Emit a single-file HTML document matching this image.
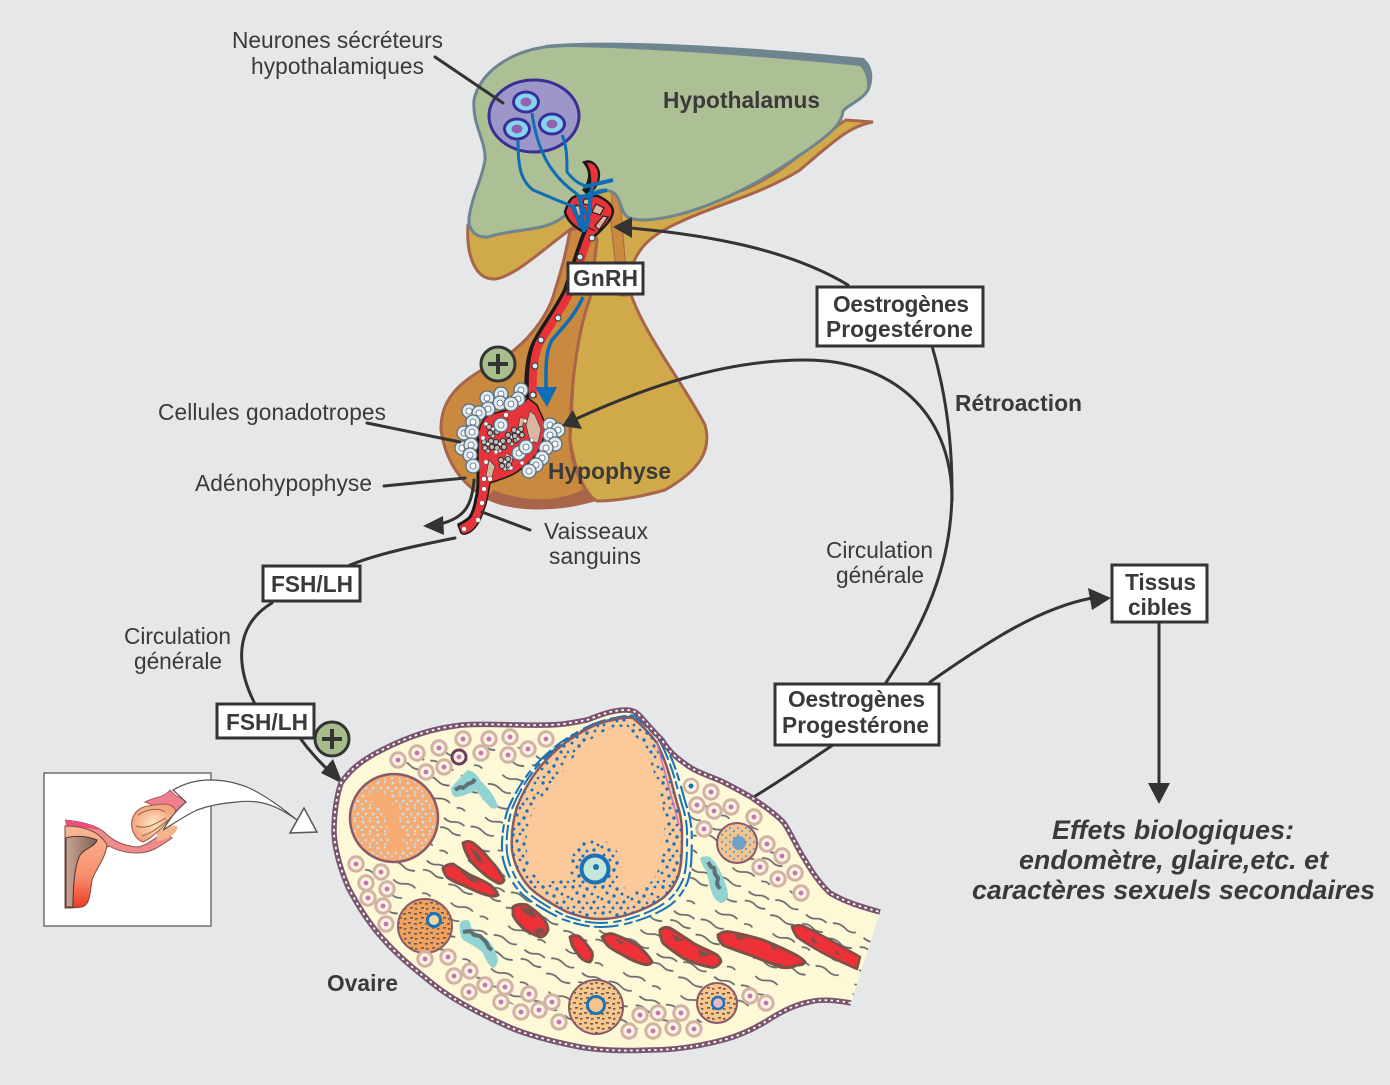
<!DOCTYPE html>
<html lang="fr"><head><meta charset="utf-8"><title>Hypothalamus</title>
<style>html,body{margin:0;padding:0;background:#e6e7e9}svg{display:block}
text{font-family:"Liberation Sans",sans-serif;fill:#3a3a3a;font-size:22.7px}
.b{font-weight:bold}.l{fill:none;stroke:#333;stroke-width:3;stroke-linecap:round}
.box{fill:#fff;stroke:#333;stroke-width:3}.v{stroke:#7d5048;stroke-width:3;fill:#ee3136;stroke-linejoin:round}
.t{fill:#92d3d3}.s{fill:none;stroke:#5f6f75;stroke-width:4;stroke-linejoin:round}</style></head><body>
<svg width="1390" height="1085" viewBox="0 0 1390 1085" xmlns="http://www.w3.org/2000/svg">
<defs>
<path id="ovb" d="M341 783C350 770 360 762 376 753C410 735 435 728 462 725C490 723 520 726 544 725C565 725 575 722 587 720C600 715 612 710 626 710C635 710 638 714 641 717C648 725 655 733 662 740C668 750 675 757 684 763C695 772 710 776 723 782C733 787 742 792 751 797C762 805 775 813 784 823C792 835 797 848 805 860C812 872 820 884 830 893C845 902 862 907 880 912L851 1003C835 1000 820 999 809 1002C795 1005 785 1010 773 1017C758 1027 742 1035 723 1040C700 1046 675 1050 651 1050C628 1051 603 1051 580 1047C555 1042 530 1036 509 1027C485 1016 458 1003 437 987C418 972 400 958 384 940C370 925 358 906 348 887C340 868 335 850 334 833C334 815 336 798 341 783Z"/>
<path id="wall" d="M851 1003C835 1000 820 999 809 1002C795 1005 785 1010 773 1017C758 1027 742 1035 723 1040C700 1046 675 1050 651 1050C628 1051 603 1051 580 1047C555 1042 530 1036 509 1027C485 1016 458 1003 437 987C418 972 400 958 384 940C370 925 358 906 348 887C340 868 335 850 334 833C334 815 336 798 341 783C350 770 360 762 376 753C410 735 435 728 462 725C490 723 520 726 544 725C565 725 575 722 587 720C600 715 612 710 626 710C635 710 638 714 641 717C648 725 655 733 662 740C668 750 675 757 684 763C695 772 710 776 723 782C733 787 742 792 751 797C762 805 775 813 784 823C792 835 797 848 805 860C812 872 820 884 830 893C845 902 862 907 880 912" fill="none"/>
<path id="fol" d="M633 718C645 728 651 735 657 743C668 765 672 785 677 803C681 815 682 825 682 833C682 850 682 865 678 877C674 886 670 892 663 898C652 906 642 910 633 913C622 917 610 919 600 919C588 919 578 916 567 912C555 906 541 898 530 888C520 877 514 864 512 850C511 835 513 820 517 807C523 792 531 778 540 767C551 754 563 743 577 735C589 727 601 722 613 720C620 718 627 717 633 718Z"/>
<clipPath id="ovc"><use href="#ovb"/></clipPath>
<linearGradient id="ug" x1="0" y1="0" x2="0" y2="1"><stop offset="0" stop-color="#f9b896"/><stop offset=".6" stop-color="#f7906c"/><stop offset="1" stop-color="#ee3a28"/></linearGradient>
<linearGradient id="cg" x1="0" y1="0" x2="1" y2="0"><stop offset="0" stop-color="#c9a694"/><stop offset="1" stop-color="#7e5f52"/></linearGradient>
<radialGradient id="og"><stop offset="0" stop-color="#fde6c4"/><stop offset="1" stop-color="#f2a27d"/></radialGradient>
<pattern id="sq" width="62" height="46" patternUnits="userSpaceOnUse" patternTransform="rotate(22)">
<path d="M3 8q7-3 13 0t13 0M36 4q6-2.5 11 0t11 0M12 24q6 3 12 0t12 0M44 26q5-2.5 9 0M2 38q7-3 13 0t12 0M36 40q6 2.5 11 0t11 0" fill="none" stroke="#6a6a6e" stroke-width="1.8"/></pattern>
<pattern id="bd" width="30" height="26" patternUnits="userSpaceOnUse">
<g fill="#1a72b8"><circle cx="3" cy="3" r="1.7"/><circle cx="10" cy="2" r="1.4"/><circle cx="17" cy="5" r="1.7"/><circle cx="25" cy="3" r="1.4"/><circle cx="7" cy="9" r="1.6"/><circle cx="14" cy="12" r="1.7"/><circle cx="22" cy="10" r="1.5"/><circle cx="28" cy="13" r="1.4"/><circle cx="2" cy="15" r="1.5"/><circle cx="9" cy="18" r="1.7"/><circle cx="17" cy="19" r="1.4"/><circle cx="24" cy="18" r="1.6"/><circle cx="4" cy="23" r="1.4"/><circle cx="13" cy="24" r="1.5"/><circle cx="21" cy="24" r="1.6"/><circle cx="28" cy="24" r="1.3"/></g></pattern>
<pattern id="ld" width="15" height="13" patternUnits="userSpaceOnUse"><g fill="#bfe0ee"><circle cx="3" cy="3" r="1.5"/><circle cx="10" cy="2" r="1.2"/><circle cx="13" cy="8" r="1.5"/><circle cx="6" cy="8" r="1.3"/><circle cx="2" cy="11" r="1.2"/><circle cx="10" cy="12" r="1.1"/></g></pattern>
<pattern id="dd" width="11" height="10" patternUnits="userSpaceOnUse"><g fill="#6a5a50"><path d="M1 2h3v1.6h-3zM7 3h3v1.6h-3zM3 7h3v1.6h-3zM8 8h2.5v1.6h-2.5z"/></g></pattern>
<pattern id="bs" width="8" height="7" patternUnits="userSpaceOnUse"><g fill="#4a9bcc"><circle cx="2" cy="2" r="1"/><circle cx="6" cy="5" r="1"/></g></pattern>
<g id="c"><circle r="7.2" fill="#fbf3dc" stroke="#d2b2a6" stroke-width="3"/><circle r="2.4" fill="#c475b8"/></g>
<g id="h"><circle r="7" fill="#dcebf3" stroke="#5f6c78" stroke-width="1.3"/><circle r="3" fill="#fff" stroke="#5f6c78" stroke-width=".8"/></g>
<g id="n"><ellipse rx="14" ry="11.5" fill="#37309b"/><ellipse rx="11" ry="8.5" fill="#86d5f0"/><ellipse rx="5.5" ry="4.5" fill="#9560b0"/></g>
<g id="g"><circle cx="-4" cy="-3" r="2.6" fill="#bbb" stroke="#333"/><circle cx="3" cy="-4" r="2.6" fill="#bbb" stroke="#333"/><circle cx="-3" cy="3" r="2.6" fill="#bbb" stroke="#333"/><circle cx="4" cy="2" r="2.6" fill="#bbb" stroke="#333"/><circle cx="0" cy="-1" r="2" fill="#eee" stroke="#333" stroke-width=".8"/><circle cx="0" cy="6" r="2" fill="#ccc" stroke="#333" stroke-width=".8"/></g>
</defs>
<rect width="1390" height="1085" fill="#e6e7e9"/>

<!-- infundibulum / pituitary -->
<path d="M468 225C466 255 475 280 495 279C515 277 548 245 575 226L630 216C680 214 700 195 743 190C790 170 820 135 846 120L873 122C850 126 835 140 800 170C760 195 715 205 680 222C650 235 632 250 628 285C640 330 685 385 705 425C712 450 700 470 665 490C640 497 615 501 597 501C585 495 575 470 570 440L575 340L588 297L600 200Z" fill="#d0a94a" stroke="#a8654a" stroke-width="3"/>
<path d="M585 185H630V230L590 240Z" fill="#d0a94a"/>
<path d="M612 193Q620 192 621 210L628 296L619 296L611 225Z" fill="#c98a40" stroke="#a8654a" stroke-width="1"/>
<path d="M570 230L590 225L597 240L590 298C575 340 570 400 570 440C572 470 583 488 594 500C560 510 515 512 487 498C465 487 446 465 441 430C440 395 465 378 500 360C525 345 545 320 553 297C558 280 565 260 570 230Z" fill="#c98a40" stroke="#a8654a" stroke-width="3"/>
<path d="M592 499C560 511 515 512 487 498L493 490C530 505 565 500 586 488Z" fill="#a8654a"/>

<!-- hypothalamus -->
<path d="M474 100C480 72 510 52 545 47C620 40 760 52 863 60C871 65 873 78 868 90C862 100 848 105 843 111C842 124 830 135 800 155C750 190 690 218 645 220C625 220 624 215 620 203C616 191 610 190 600 190C585 195 575 210 563 217C545 232 515 228 488 237C478 238 468 232 469 218C472 195 482 180 485 160C486 140 472 125 474 100Z" fill="#acbf95" stroke="#6e8590" stroke-width="3"/>
<path d="M545 45C620 38 760 48 864 58C873 68 874 84 867 94C868 85 867 72 860 66C760 56 620 46 545 47Z" fill="#6e8590"/>

<!-- neurons -->
<ellipse cx="534" cy="116" rx="45" ry="36" fill="#9d97c9" stroke="#3b2f95" stroke-width="3"/>
<use href="#n" x="526" y="102"/><use href="#n" x="517" y="129"/><use href="#n" x="552" y="124"/>

<!-- vessel stalk -->
<path d="M582 162C590 157 598 163 600 172C601 182 596 190 588 196L582 190C590 180 590 170 582 162Z" fill="#1a1a1a"/>
<path d="M587 163C593 162 598 168 598 175C598 182 594 188 590 192C592 182 592 172 587 163Z" fill="#e8333a"/>
<path d="M565 212C568 203 570 198 576 196L598 196C606 200 612 204 613 211C612 220 605 226 596 235L582 231C573 226 567 220 565 212Z" fill="#e8333a" stroke="#1a1a1a" stroke-width="2.5"/>
<path d="M576 205l9 3-3 9-8-3zM596 204l8 4-4 7-8-3zM603 216l5 1-9 13-4-4zM584 199l8 0-1 6-8-1z" fill="#dcb59e" stroke="#222" stroke-width="1.2"/>
<path d="M590 228C584 240 578 262 568 292C558 312 545 328 537 344C531 356 529 375 530 398" fill="none" stroke="#1a1a1a" stroke-width="11"/>
<path d="M592 230C586 242 580 262 570 292C560 312 548 328 539 344C534 356 532 375 533 398" fill="none" stroke="#e8333a" stroke-width="8"/>
<g fill="#d6eef6" stroke="#333" stroke-width="1"><circle cx="592" cy="238" r="3"/><circle cx="580" cy="257" r="3"/><circle cx="558" cy="318" r="3"/><circle cx="541" cy="340" r="3"/><circle cx="535" cy="366" r="3"/><circle cx="533" cy="395" r="3"/></g>

<!-- axons -->
<g fill="none" stroke="#0d6db5" stroke-width="3"><path d="M518 140C518 165 520 180 533 190C550 197 560 202 570 205C578 215 580 222 584 231"/><path d="M532 113C537 150 550 175 577 194C582 203 585 215 590 222"/><path d="M562 135C567 145 567 160 567 172C575 182 580 184 586 186"/></g>
<g fill="none" stroke="#0d6db5" stroke-width="4"><path d="M613 180L583 187M607 190L578 198M592 188L586 230M580 199L584 232M573 205L581 228M590 192L590 215"/></g>
<path d="M583 297C575 315 565 325 552 340C545 352 546 370 546 388" fill="none" stroke="#0d6db5" stroke-width="3.5"/>
<path d="M535 387h22l-10 20z" fill="#0d6db5"/>

<!-- pituitary capillary net -->
<path d="M528 398L537 405C541 415 545 420 545 428C544 440 541 447 537 453C530 463 522 468 517 472C508 478 498 480 490 483C488 495 487 503 483 512C480 522 476 528 470 532C467 534 463 535 461 533L458 525C464 522 467 520 470 517C474 510 476 505 476 498C478 490 478 480 478 472C477 460 477 448 478 438C479 428 481 423 485 418C492 413 500 412 507 410C515 408 522 405 528 398Z" fill="#e8333a" stroke="#1a1a1a" stroke-width="1.5"/>
<path d="M478 438C477 450 477 462 478 472C478 484 478 492 476 498C475 505 473 512 470 517C466 521 462 523 458 525" fill="none" stroke="#1a1a1a" stroke-width="3"/>
<g fill="#d9b6a2" stroke="#333" stroke-width=".6"><path d="M530 411l5 4 6 14-3 14-8-2-4-16z"/><path d="M489 460l6 6-4 14-5-4z"/><path d="M506 453l7 4-3 14-8-4z"/><path d="M520 418l4 0-2 12-4-1z"/><path d="M493 422l10-4 5 2-8 6z"/></g>
<use href="#g" x="493" y="430"/><use href="#g" x="512" y="438"/><use href="#g" x="488" y="445"/><use href="#g" x="500" y="445"/><use href="#g" x="505" y="463"/><use href="#g" x="518" y="433"/>
<g fill="#fff" stroke="#555" stroke-width=".5"><circle cx="483" cy="438" r="2.2"/><circle cx="486" cy="462" r="2.2"/><circle cx="484" cy="479" r="2.4"/><circle cx="490" cy="479" r="2.4"/><circle cx="484" cy="489" r="2.4"/><circle cx="482" cy="503" r="2.4"/><circle cx="478" cy="520" r="2.4"/><circle cx="464" cy="529" r="2.4"/><circle cx="525" cy="421" r="2"/><circle cx="532" cy="440" r="2"/><circle cx="511" cy="468" r="2"/><circle cx="522" cy="463" r="2"/><circle cx="496" cy="452" r="2"/><circle cx="506" cy="415" r="2.4"/><circle cx="486" cy="424" r="2"/></g>
<g>
<use href="#h" x="487" y="398"/><use href="#h" x="501" y="394"/><use href="#h" x="521" y="390"/><use href="#h" x="518" y="399"/><use href="#h" x="500" y="403"/><use href="#h" x="511" y="404"/><use href="#h" x="488" y="409"/><use href="#h" x="469" y="411"/><use href="#h" x="479" y="413"/><use href="#h" x="473" y="422"/><use href="#h" x="464" y="433"/><use href="#h" x="472" y="432"/><use href="#h" x="462" y="448"/><use href="#h" x="471" y="445"/><use href="#h" x="470" y="455"/><use href="#h" x="473" y="466"/><use href="#h" x="550" y="425"/><use href="#h" x="558" y="430"/><use href="#h" x="550" y="435"/><use href="#h" x="555" y="444"/><use href="#h" x="546" y="448"/><use href="#h" x="542" y="458"/><use href="#h" x="536" y="465"/><use href="#h" x="529" y="471"/><use href="#h" x="519" y="453"/><use href="#h" x="526" y="447"/><use href="#h" x="501" y="425"/>
</g>

<!-- connectors -->
<g class="l">
<path d="M435 57L503 103M367 423L460 442M384 486L465 478M530 530L482 512"/>
<path d="M848 285C790 250 710 235 630 228"/>
<path d="M885 684C935 610 952 550 952 490C952 440 945 390 932 346"/>
<path d="M952 500C952 410 890 360 805 360C720 360 640 390 578 418"/>
<path d="M752 798C790 775 810 760 833 745"/>
<path d="M930 682C990 640 1040 608 1092 598"/>
<path d="M1159 622V785"/>
<path d="M350 565C380 553 420 545 455 538"/>
<path d="M272 603C235 625 235 665 255 704"/>
<path d="M300 738C310 752 320 762 330 772"/>
<path d="M474 480C472 505 465 518 440 524"/>
</g>
<g fill="#333">
<path d="M613 227L632 217V238Z"/>
<path d="M562 426L573 410L582 429Z"/>
<path d="M1111 598L1088 588L1092 610Z"/>
<path d="M1148 783H1170L1159 804Z"/>
<path d="M343 784L321 773L333 759Z"/>
<path d="M423 526L443 516L444 535Z"/>
</g>

<!-- plus badges -->
<g fill="#a8bd8c" stroke="#333" stroke-width="3"><circle cx="498" cy="364" r="17"/><circle cx="332" cy="739" r="17"/></g>
<path d="M488 364h20M498 354v20M322 739h20M332 729v20" stroke="#333" stroke-width="4"/>

<!-- ovary -->
<use href="#ovb" fill="#fdf9d6"/>
<g clip-path="url(#ovc)">
<use href="#ovb" fill="url(#sq)"/>
<use href="#wall" stroke="#fdf9d6" stroke-width="44"/>
</g>

<!-- big follicle -->
<use href="#fol" fill="#fdf9d6" transform="translate(597 760) scale(1.13 1.055) translate(-597 -760)"/>
<g fill="none" stroke="#1a72b8" stroke-width="1.9" stroke-dasharray="15 3 8 5 22 4">
<use href="#fol" transform="translate(597 760) scale(1.06 1.025) translate(-597 -760)"/>
<use href="#fol" transform="translate(597 760) scale(1.115 1.05) translate(-597 -760)" stroke-dashoffset="9"/>
</g>
<use href="#wall" stroke="#7a5570" stroke-width="5.5"/>
<use href="#wall" stroke="#fff" stroke-width="1.8" stroke-dasharray="2.5 3.5"/>
<use href="#fol" fill="#fcc99a" stroke="#8a5a60" stroke-width="2.5"/>
<use href="#fol" fill="url(#bd)"/>
<path d="M627 727C640 740 648 755 652 767C658 785 661 797 663 810C665 825 665 838 663 850C661 862 658 872 653 880C645 887 638 890 630 892C622 884 615 884 610 883C595 872 580 875 567 877C558 880 550 882 543 883C537 878 532 872 530 867C527 855 526 845 527 833C529 822 532 812 537 803C543 795 550 788 557 780C567 765 577 752 587 743C596 735 604 731 613 728C618 727 622 726 627 727Z" fill="#fcc99a"/>
<circle cx="595" cy="865" r="26" fill="url(#bd)"/>
<circle cx="595" cy="868" r="19" fill="url(#bd)"/>
<circle cx="595" cy="869" r="13.5" fill="#c5e6d8" stroke="#1a72b8" stroke-width="4"/><circle cx="596" cy="867" r="3" fill="#1a72b8"/>
<path d="M657 743L679 825" stroke="#c775b8" stroke-width="1.5" fill="none"/>

<!-- follicles -->
<circle cx="394" cy="818" r="44" fill="#f6ab72" stroke="#8b5a6a" stroke-width="2.5"/><circle cx="394" cy="818" r="42" fill="url(#ld)"/>
<path d="M378 790C396 800 406 830 402 852L388 848C392 825 382 805 366 797Z" fill="#f6ab72"/>
<circle cx="425" cy="926" r="27" fill="#f1a25f" stroke="#8b5a6a" stroke-width="2"/><circle cx="425" cy="926" r="26" fill="url(#dd)"/><circle cx="434" cy="920" r="6.5" fill="#eed6a8" stroke="#1a72b8" stroke-width="3"/>
<circle cx="596" cy="1007" r="27" fill="#f7c68c" stroke="#8b5a6a" stroke-width="2"/><circle cx="596" cy="1007" r="26" fill="url(#dd)"/><circle cx="596" cy="1005" r="8.5" fill="#f6c48a" stroke="#1a72b8" stroke-width="3"/>
<circle cx="717" cy="1003" r="20" fill="#f7c68c" stroke="#8b5a6a" stroke-width="2"/><circle cx="717" cy="1003" r="19" fill="url(#dd)"/><circle cx="718" cy="1003" r="6" fill="#e8b8c8" stroke="#1a72b8" stroke-width="2.5"/>
<circle cx="737" cy="843" r="20" fill="#f4c490" stroke="#8b5a6a" stroke-width="2"/><circle cx="737" cy="843" r="19" fill="url(#bs)"/><circle cx="739" cy="843" r="7" fill="#6fa0c8"/>

<!-- teal bands -->
<path class="t" d="M451 788C458 780 462 775 468 770C475 772 478 776 480 780C490 790 496 798 498 807C496 809 493 809 491 808C485 802 480 796 476 790C470 793 462 797 455 797C452 795 451 792 451 788Z"/>
<path class="t" d="M700 858C703 856 707 856 710 857C716 862 720 870 723 877C726 885 728 890 728 897C726 902 723 903 720 903C716 900 713 897 712 893C709 885 708 878 707 872C704 868 701 863 700 858Z"/>
<path class="t" d="M460 923C462 920 465 920 468 920C471 923 471 927 472 930C478 934 484 936 488 940C493 946 497 953 498 960C497 965 495 968 493 968C488 965 485 958 483 953C477 947 470 944 463 940C460 935 459 929 460 923Z"/>
<path class="s" d="M455 790l5-3 3 1 5-4 5-2 2-3"/>
<path class="s" d="M708 862l3 5 3 1 1 6 3 4-1 6 3 5"/>
<path class="s" d="M463 932l7-1 4 4 6 1 6 6 3 6 3 2"/>

<!-- blood vessels -->
<path class="v" d="M463 843C466 841 470 841 473 843C480 848 485 854 490 860C496 866 501 873 504 880C503 883 500 884 498 883C492 880 487 877 483 873C478 869 474 865 470 860C467 855 464 849 463 843Z"/>
<path class="v" d="M443 868C446 865 450 864 453 864C459 868 465 872 470 875C477 878 484 881 490 885C494 888 497 892 498 895C494 897 490 896 487 895C479 893 471 889 463 885C457 883 451 880 447 877C445 874 443 871 443 868Z"/>
<path class="v" d="M513 907C517 904 522 904 527 905C533 909 538 913 543 918C546 922 548 926 548 930C546 935 543 937 540 937C534 935 528 932 523 928C519 924 515 920 513 915Z"/>
<path class="v" d="M570 937C573 935 577 935 580 937C585 942 589 947 592 952C593 956 592 960 590 962C586 962 583 960 580 957C577 953 574 949 572 945Z"/>
<path class="v" d="M602 937C606 934 610 933 613 934C621 937 630 941 637 945C643 950 649 956 652 962C650 965 646 965 643 964C636 962 629 959 623 955C617 952 611 949 607 945Z"/>
<path class="v" d="M660 930C663 927 667 927 670 928C678 933 686 938 693 943C702 948 710 951 717 955C720 958 722 961 720 963C717 967 713 968 710 967C700 965 691 962 683 958C676 953 669 949 663 943C661 939 660 935 660 930Z"/>
<path class="v" d="M718 935C722 932 726 931 730 932C742 934 753 937 763 940C773 944 782 948 790 952C796 955 802 958 805 962C803 965 800 965 797 965C791 968 785 968 780 967C770 963 760 959 750 955C741 952 732 949 723 945C720 942 718 939 718 935Z"/>
<path d="M792 927C796 925 800 925 803 926C812 930 821 935 830 940C840 946 850 951 860 957L857 969C846 964 834 959 823 953C814 948 805 943 797 937C795 934 793 931 792 927Z" class="v" style="stroke-width:2.5"/>
<g fill="#7d5048"><path d="M470 848l8 4 6 12-7-3zM460 871l12 5 8 8-10-3zM519 907l12 2 6 9-10-3zM534 930l8-3 3 5-8 4zM672 934l12 6-8 2zM698 949l14 6-12 2zM735 935l14 3-11 2zM770 944l8 5-5 2zM772 962l14 3-10 1zM812 936l6 8-7-2zM835 950l8 6-8-2zM615 938l10 5-6 1z"/></g>

<!-- small cells -->
<use href="#c" x="398" y="760"/><use href="#c" x="417" y="753"/><use href="#c" x="439" y="748"/><use href="#c" x="463" y="739"/><use href="#c" x="489" y="739"/><use href="#c" x="510" y="737"/><use href="#c" x="546" y="739"/><use href="#c" x="426" y="772"/><use href="#c" x="444" y="767"/><use href="#c" x="481" y="753"/><use href="#c" x="508" y="755"/><use href="#c" x="528" y="749"/>
<use href="#c" x="356" y="864"/><use href="#c" x="381" y="872"/><use href="#c" x="366" y="883"/><use href="#c" x="387" y="889"/><use href="#c" x="368" y="898"/><use href="#c" x="383" y="906"/><use href="#c" x="386" y="924"/>
<use href="#c" x="425" y="959"/><use href="#c" x="448" y="957"/><use href="#c" x="454" y="976"/><use href="#c" x="470" y="971"/><use href="#c" x="469" y="992"/><use href="#c" x="485" y="985"/><use href="#c" x="505" y="987"/><use href="#c" x="529" y="994"/><use href="#c" x="501" y="1002"/><use href="#c" x="521" y="1012"/><use href="#c" x="539" y="1010"/><use href="#c" x="552" y="1002"/><use href="#c" x="559" y="1022"/>
<use href="#c" x="629" y="1031"/><use href="#c" x="653" y="1031"/><use href="#c" x="640" y="1015"/><use href="#c" x="658" y="1013"/><use href="#c" x="681" y="1013"/><use href="#c" x="673" y="1028"/><use href="#c" x="694" y="1029"/><use href="#c" x="750" y="996"/><use href="#c" x="766" y="1003"/>
<use href="#c" x="711" y="792"/><use href="#c" x="697" y="805"/><use href="#c" x="714" y="811"/><use href="#c" x="731" y="807"/><use href="#c" x="754" y="817"/><use href="#c" x="704" y="829"/><use href="#c" x="767" y="844"/><use href="#c" x="782" y="856"/><use href="#c" x="760" y="867"/><use href="#c" x="795" y="873"/><use href="#c" x="778" y="879"/><use href="#c" x="801" y="893"/>
<circle cx="691" cy="786" r="7" fill="#fbf3dc" stroke="#d2b2a6" stroke-width="2.5"/><circle cx="691" cy="786" r="2.5" fill="#1a72b8"/>
<circle cx="459" cy="757" r="7" fill="#fbf3dc" stroke="#6b3f5c" stroke-width="3"/><circle cx="459" cy="757" r="2.4" fill="#c475b8"/>

<!-- inset -->
<rect x="44" y="773" width="167" height="153" fill="#fff" stroke="#666" stroke-width="1.4"/>
<path d="M65 820C85 822 96 826 103 831C112 840 120 845 137 847C146 846 152 840 165 832L172 838C158 848 150 853 137 853C125 853 116 850 109 846L108 847Z" fill="#f08a8c" stroke="#8a5a50" stroke-width="1"/>
<path d="M65 820C85 822 96 826 103 831C100 830 80 826 66 826Z" fill="#ef4f78"/>
<path d="M65 826C85 826 100 832 107 845C105 860 95 870 92 880C90 893 90 905 82 907C75 908 70 908 65 908Z" fill="url(#ug)" stroke="#7a4a40" stroke-width="1"/>
<path d="M66 838C72 836 85 835 97 840C95 847 85 848 80 855C75 865 73 885 73 907L66 907Z" fill="url(#cg)" stroke="#4a3530" stroke-width="1"/>
<path d="M145 802C155 797 165 797 170 790L175 795C180 798 185 800 190 802L176 813L165 810Z" fill="#ef7f90" stroke="#b05a5a" stroke-width="1"/>
<path d="M157 833C165 826 174 824 178 827C176 834 168 840 157 841Z" fill="#f5b48e"/>
<path d="M132 820C134 812 140 807 148 806C158 804 168 803 172 806C178 810 176 815 170 818C165 826 152 838 143 842C136 840 130 830 132 820Z" fill="url(#og)" stroke="#a06040" stroke-width="1.1"/>
<path d="M138 815C148 808 160 808 165 812M136 826C146 830 155 824 166 818M142 836C150 834 158 828 168 820" fill="none" stroke="#a06040" stroke-width="1"/>
<path d="M173 790C185 783 197 780 210 780C225 780 236 783 247 787C265 795 282 808 297 820C287 813 276 806 263 803C254 801 245 801 237 802C222 803 208 806 197 810C186 815 175 823 163 830C168 822 174 812 186 802Z" fill="#fff" stroke="#555" stroke-width="1.2"/>
<path d="M290 833L317 832L304 808Z" fill="#fff" stroke="#555" stroke-width="1.5"/>

<!-- boxes -->
<rect class="box" x="568" y="263" width="75" height="31"/>
<rect class="box" x="817" y="287" width="166" height="59"/>
<rect class="box" x="775" y="684" width="164" height="61"/>
<rect class="box" x="1112" y="565" width="95" height="57"/>
<rect class="box" x="263" y="566" width="97" height="35"/>
<rect class="box" x="217" y="704" width="97" height="34"/>

<!-- labels -->
<text x="232" y="48" textLength="211">Neurones sécréteurs</text>
<text x="251" y="74" textLength="173">hypothalamiques</text>
<text class="b" x="663" y="108" textLength="157">Hypothalamus</text>
<text class="b" x="573" y="286" textLength="65">GnRH</text>
<text class="b" x="833" y="312" textLength="136">Oestrogènes</text>
<text class="b" x="826" y="337" textLength="147">Progestérone</text>
<text class="b" x="955" y="411" textLength="127">Rétroaction</text>
<text x="158" y="420" textLength="228">Cellules gonadotropes</text>
<text x="195" y="491" textLength="177">Adénohypophyse</text>
<text class="b" x="548" y="479" textLength="123">Hypophyse</text>
<text x="544" y="539" textLength="104">Vaisseaux</text>
<text x="549" y="564" textLength="92">sanguins</text>
<text class="b" x="271" y="592" textLength="82">FSH/LH</text>
<text class="b" x="226" y="730" textLength="82">FSH/LH</text>
<text x="124" y="644" textLength="107">Circulation</text>
<text x="134" y="669" textLength="88">générale</text>
<text x="826" y="558" textLength="107">Circulation</text>
<text x="836" y="583" textLength="88">générale</text>
<text class="b" x="1125" y="590" textLength="71">Tissus</text>
<text class="b" x="1128" y="615" textLength="64">cibles</text>
<text class="b" x="788" y="707" textLength="137">Oestrogènes</text>
<text class="b" x="782" y="733" textLength="147">Progestérone</text>
<text class="b" x="327" y="991" textLength="71">Ovaire</text>
<text class="b" font-style="italic" style="font-size:26.8px" x="1052" y="839" textLength="242">Effets biologiques:</text>
<text class="b" font-style="italic" style="font-size:26.8px" x="1019" y="869" textLength="309">endomètre, glaire,etc. et</text>
<text class="b" font-style="italic" style="font-size:26.8px" x="972" y="899" textLength="403">caractères sexuels secondaires</text>
</svg></body></html>
